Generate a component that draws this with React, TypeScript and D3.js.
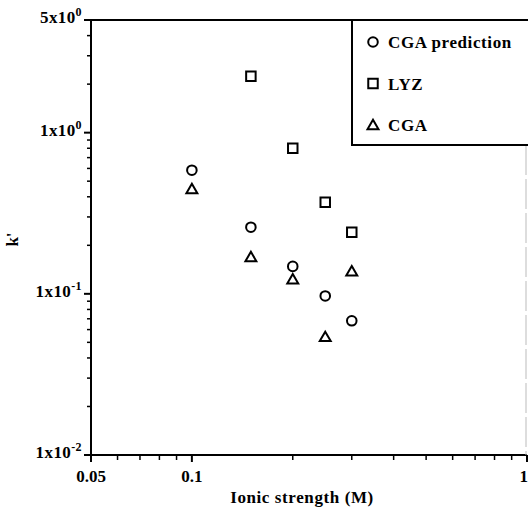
import React, { useEffect, useRef } from 'react';
import * as d3 from 'd3';

// Ionic strength (M)
const ionic = [0.1, 0.15, 0.2, 0.25, 0.3];
const cgaPrediction = [0.585, 0.259, 0.148, 0.097, 0.068];
const lyzX = [0.15, 0.2, 0.25, 0.3];
const lyz = [2.24, 0.8, 0.37, 0.241];
const cga = [0.446, 0.169, 0.123, 0.054, 0.138];

const xTickLabels = [{ v: 0.05, t: '0.05' }, { v: 0.1, t: '0.1' }, { v: 1, t: '1' }];
const yTickLabels = [
  { v: 5, base: '5x10', exp: '0' },
  { v: 1, base: '1x10', exp: '0' },
  { v: 0.1, base: '1x10', exp: '-1' },
  { v: 0.01, base: '1x10', exp: '-2' },
];
const legendItems = ['CGA prediction', 'LYZ', 'CGA'];

const FONT = '"Liberation Serif", "Times New Roman", serif';

const App: React.FC = () => {
  const svgRef = useRef<SVGSVGElement>(null);

  useEffect(() => {
    if (!svgRef.current) return;
    const svg = d3.select(svgRef.current);
    svg.selectAll('*').remove();

    const width = 528;
    const height = 508;
    const left = 91, right = 527, top = 20, bottom = 455;

    svg.append('rect').attr('width', width).attr('height', height).attr('fill', 'white');

    const x = d3.scaleLog().domain([0.05, 1]).range([left, right]);
    const y = d3.scaleLog().domain([0.01, 5]).range([bottom, top]);

    const g = svg.append('g');

    // frame
    g.append('line').attr('x1', left).attr('x2', right).attr('y1', top).attr('y2', top)
      .attr('stroke', '#000').attr('stroke-width', 2);
    g.append('line').attr('x1', left).attr('x2', left).attr('y1', top).attr('y2', bottom)
      .attr('stroke', '#000').attr('stroke-width', 2);
    g.append('line').attr('x1', left).attr('x2', right).attr('y1', bottom).attr('y2', bottom)
      .attr('stroke', '#000').attr('stroke-width', 2);
    g.append('line').attr('x1', right - 1).attr('x2', right - 1).attr('y1', 145).attr('y2', bottom)
      .attr('stroke', '#bbb').attr('stroke-width', 1).attr('stroke-dasharray', '30,4');

    // x ticks (outward, below)
    const xTicks = x.ticks();
    xTicks.forEach(v => {
      if (v < 0.05 || v > 1) return;
      const major = v === 0.05 || v === 0.1 || v === 1;
      g.append('line')
        .attr('x1', x(v)).attr('x2', x(v))
        .attr('y1', bottom).attr('y2', bottom + (major ? 7 : 5))
        .attr('stroke', '#000').attr('stroke-width', major ? 2 : 1.5);
    });

    // y ticks (outward, left)
    const yTicks = y.ticks().filter(v => v >= 0.01 && v <= 5);
    yTicks.forEach(v => {
      const major = [0.01, 0.1, 1, 5].includes(+v.toPrecision(3));
      g.append('line')
        .attr('x1', left - (major ? 7 : 4)).attr('x2', left)
        .attr('y1', y(v)).attr('y2', y(v))
        .attr('stroke', '#000').attr('stroke-width', major ? 2 : 1.5);
    });

    // tick labels
    xTickLabels.forEach(d => {
      const isEdge = d.v === 1;
      g.append('text')
        .attr('x', isEdge ? width : x(d.v)).attr('y', bottom + 27)
        .attr('text-anchor', isEdge ? 'end' : 'middle')
        .style('font-family', FONT).style('font-weight', 'bold').style('font-size', '17px')
        .text(d.t);
    });
    yTickLabels.forEach(d => {
      const t = g.append('text')
        .attr('x', left - 9).attr('y', y(d.v) + 3)
        .attr('text-anchor', 'end')
        .style('font-family', FONT).style('font-weight', 'bold').style('font-size', '17px')
        .style('letter-spacing', '0.4px');
      t.append('tspan').text(d.base);
      t.append('tspan').attr('dy', -7).style('font-size', '12px').text(d.exp);
    });

    // axis titles
    g.append('text')
      .attr('x', 302).attr('y', 503)
      .attr('text-anchor', 'middle')
      .style('font-family', FONT).style('font-weight', 'bold').style('font-size', '17px')
      .style('letter-spacing', '0.6px')
      .text('Ionic strength (M)');
    g.append('text')
      .attr('transform', `translate(18, ${(top + bottom) / 2 + 2}) rotate(-90)`)
      .attr('text-anchor', 'middle')
      .style('font-family', FONT).style('font-weight', 'bold').style('font-size', '17px')
      .text("k'");

    // markers
    const circle = d3.symbol().type(d3.symbolCircle).size(72);
    const square = d3.symbol().type(d3.symbolSquare).size(90);
    const triangle = d3.symbol().type(d3.symbolTriangle).size(52);

    const drawPts = (xs: number[], ys: number[], sym: d3.Symbol<any, any>, dy = 0) => {
      xs.forEach((xv, i) => {
        g.append('path')
          .attr('d', sym())
          .attr('transform', `translate(${x(xv)}, ${y(ys[i]) + dy})`)
          .attr('fill', 'none').attr('stroke', '#000').attr('stroke-width', 2);
      });
    };
    drawPts(ionic, cgaPrediction, circle);
    drawPts(lyzX, lyz, square);
    drawPts(ionic, cga, triangle, 1);

    // legend
    const lx = 352, lTop = top, lBottom = 145;
    svg.append('rect')
      .attr('x', lx).attr('y', lTop).attr('width', width - lx + 2).attr('height', lBottom - lTop)
      .attr('fill', 'white').attr('stroke', '#000').attr('stroke-width', 2);
    const legendSyms = [circle, square, triangle];
    legendItems.forEach((name, i) => {
      const ly = 42 + i * 41.5;
      svg.append('path')
        .attr('d', legendSyms[i]())
        .attr('transform', `translate(373, ${ly + (i === 2 ? 1 : 0)})`)
        .attr('fill', 'none').attr('stroke', '#000').attr('stroke-width', 2);
      svg.append('text')
        .attr('x', 388).attr('y', ly + 6)
        .style('font-family', FONT).style('font-weight', 'bold').style('font-size', '17px')
        .style('letter-spacing', '0.6px')
        .text(name);
    });
  }, []);

  return (
    <div style={{ position: 'fixed', left: 0, top: 0, width: 528, height: 508, overflow: 'hidden' }}>
      <svg ref={svgRef} width={528} height={508} viewBox="0 0 528 508" style={{ display: 'block' }} />
    </div>
  );
};

export default App;
